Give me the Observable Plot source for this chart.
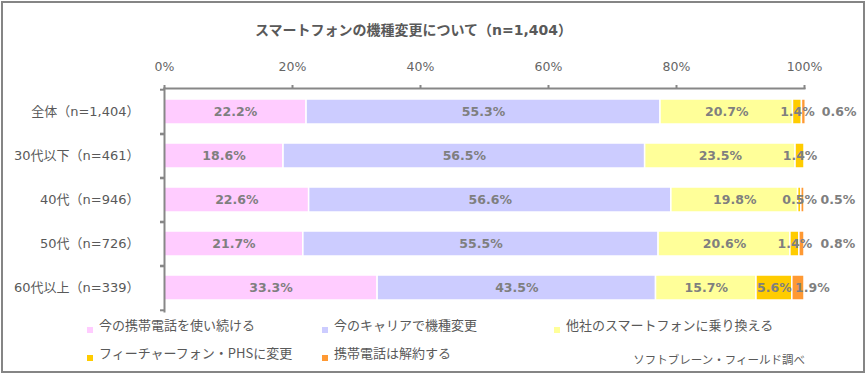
<!DOCTYPE html>
<html>
<head>
<meta charset="utf-8">
<script src="https://cdn.jsdelivr.net/npm/d3@7"></script>
<script src="https://cdn.jsdelivr.net/npm/@observablehq/plot@0.6"></script>
<style>
  html, body { margin: 0; padding: 0; background: #fff; }
  #wrap { position: relative; width: 865px; height: 373px; overflow: hidden; font-family: "DejaVu Sans", "Noto Sans CJK JP", sans-serif; color: #595959; }
  #border { position: absolute; left: 1px; top: 1px; width: 864px; height: 372px; box-sizing: border-box; border: 2px solid #858585; pointer-events: none; }
  #title { position: absolute; left: 0; width: 827px; top: 20px; text-align: center; font-size: 14px; font-weight: bold; line-height: 20px; white-space: nowrap; }
  #chart { position: absolute; left: 0; top: 0; }
  .leg { position: absolute; font-family: "Noto Sans CJK JP", sans-serif; font-size: 13px; line-height: 18px; white-space: nowrap; color: #595959; }
  .sw { position: absolute; width: 6px; height: 6px; }
  #source { position: absolute; right: 60px; top: 351px; font-family: "Noto Sans CJK JP", sans-serif; font-size: 11.5px; line-height: 16px; color: #595959; white-space: nowrap; }
</style>
</head>
<body>
<div id="wrap">
  <div id="chart"></div>
  <div id="title"></div>
  <div id="legend"></div>
  <div id="source"></div>
  <div id="border"></div>
</div>
<script>
const titleText = "スマートフォンの機種変更について（n=1,404）";
const sourceText = "ソフトブレーン・フィールド調べ";
const categories = ["全体（n=1,404）", "30代以下（n=461）", "40代（n=946）", "50代（n=726）", "60代以上（n=339）"];
const seriesNames = ["今の携帯電話を使い続ける", "今のキャリアで機種変更", "他社のスマートフォンに乗り換える", "フィーチャーフォン・PHSに変更", "携帯電話は解約する"];
const keepCurrent   = [22.2, 18.6, 22.6, 21.7, 33.3];
const sameCarrier   = [55.3, 56.5, 56.6, 55.5, 43.5];
const otherCarrier  = [20.7, 23.5, 19.8, 20.6, 15.7];
const featurePhone  = [1.4, 1.4, 0.5, 1.4, 5.6];
const cancelPhone   = [0.6, 0.0, 0.5, 0.8, 1.9];
const xTicks = [0, 20, 40, 60, 80, 100];
const colors = ["#FFCCFF", "#CCCCFF", "#FFFF99", "#FFCC00", "#FF9933"];

const seriesValues = [keepCurrent, sameCarrier, otherCarrier, featurePhone, cancelPhone];
const data = [];
categories.forEach((c, ci) => {
  seriesValues.forEach((vals, si) => {
    data.push({cat: c, series: seriesNames[si], s: si, value: vals[ci]});
  });
});

const fmt = v => v.toFixed(1) + "%";
const axisColor = "#878787";
const W = 865, H = 373;
const mTop = 88, mBottom = 62, mLeft = 164, mRight = 61;
const step = (H - mTop - mBottom) / categories.length;

const labelStyle = {fontFamily: "DejaVu Sans, sans-serif", fontWeight: "bold", fontSize: 12.5, fill: "#7F7F7F"};

const plot = Plot.plot({
  width: W,
  height: H,
  marginTop: mTop,
  marginBottom: mBottom,
  marginLeft: mLeft,
  marginRight: mRight,
  style: {fontFamily: "DejaVu Sans, 'Noto Sans CJK JP', sans-serif", fontSize: "12px", color: "#595959", background: "transparent"},
  x: {domain: [0, 100], axis: null, label: null},
  y: {domain: categories, paddingInner: 0.44, paddingOuter: 0.22, axis: null, label: null},
  color: {domain: seriesNames, range: colors},
  marks: [
    Plot.barX(data, Plot.stackX({x: "value", y: "cat", z: "series", fill: "series", stroke: "white", strokeWidth: 1.5})),
    Plot.text(data, Plot.stackX({x: "value", y: "cat", z: "series",
      text: d => (d.s < 4 && d.value > 0) ? fmt(d.value) : null, ...labelStyle})),
    Plot.text(data, Plot.stackX({x: "value", y: "cat", z: "series",
      text: d => (d.s === 4 && d.value >= 1) ? fmt(d.value) : null, dx: 14, ...labelStyle})),
    Plot.text(data, Plot.stackX2({x: "value", y: "cat", z: "series",
      text: d => (d.s === 4 && d.value > 0 && d.value < 1) ? fmt(d.value) : null, textAnchor: "start", dx: 16, ...labelStyle})),
    Plot.frame({anchor: "top", stroke: axisColor, strokeWidth: 2}),
    Plot.frame({anchor: "left", stroke: axisColor, strokeWidth: 2}),
    Plot.axisX({anchor: "top", label: null, ticks: xTicks, tickSize: 4, tickFormat: () => "", stroke: axisColor, strokeWidth: 2}),
    Plot.axisX({anchor: "top", label: null, ticks: xTicks, tickSize: 0, tickPadding: 18, tickFormat: d => d + "%", fill: "#666", fontSize: 12.5, fontFamily: "DejaVu Sans, sans-serif"}),
    Plot.axisY({anchor: "left", label: null, tickSize: 4, tickFormat: () => "", dy: step / 2, stroke: axisColor, strokeWidth: 2}),
    Plot.axisY({anchor: "left", label: null, tickSize: 4, tickFormat: () => "", dy: -step / 2, stroke: axisColor, strokeWidth: 2}),
    Plot.axisY({anchor: "left", label: null, tickSize: 0, tickPadding: 25, fontSize: 13, fill: "#595959"})
  ]
});
document.getElementById("chart").appendChild(plot);
document.getElementById("title").textContent = titleText;
document.getElementById("source").textContent = sourceText;

// legend
const colX = [87, 322, 554];
const rowY = [325, 353];
const legend = d3.select("#legend");
seriesNames.forEach((name, i) => {
  const col = i % 3, row = Math.floor(i / 3);
  legend.append("div").attr("class", "sw")
    .style("left", colX[col] + "px").style("top", (rowY[row] + 2) + "px")
    .style("background", colors[i]);
  legend.append("div").attr("class", "leg")
    .style("left", (colX[col] + 12) + "px").style("top", (rowY[row] - 9) + "px")
    .text(name);
});
</script>
</body>
</html>
